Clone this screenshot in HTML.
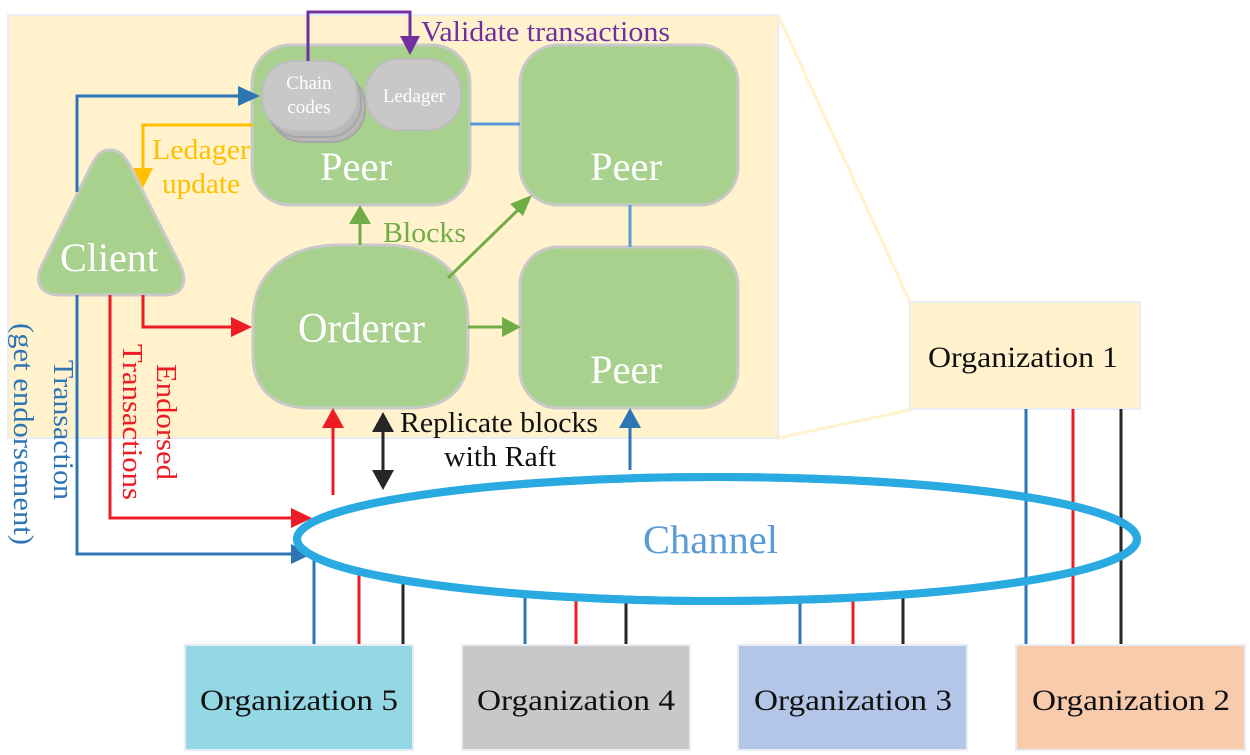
<!DOCTYPE html>
<html><head><meta charset="utf-8"><style>
html,body{margin:0;padding:0;background:#fff;}
svg{display:block;font-family:"Liberation Serif",serif;}
</style></head><body>
<svg width="1250" height="755" viewBox="0 0 1250 755" xmlns="http://www.w3.org/2000/svg">
<!-- zoom lines -->
<polygon points="778,15 910,302 910,410 778,438" fill="none" stroke="#fff2cc" stroke-width="3"/>
<!-- panel -->
<rect x="8" y="15" width="770" height="423" fill="#fff2cc" stroke="#e8edf5" stroke-width="2"/>
<!-- org1 -->
<rect x="910" y="302" width="230" height="107" fill="#fff2cc" stroke="#e8edf5" stroke-width="2"/>
<text x="928" y="367" font-size="30" textLength="190" lengthAdjust="spacingAndGlyphs" fill="#111">Organization 1</text>
<!-- peers -->
<g fill="#a9d18e" stroke="#c9c9c9" stroke-width="3">
<rect x="252" y="45" width="218" height="160" rx="38"/>
<rect x="520" y="45" width="218" height="160" rx="38"/>
<rect x="520" y="247" width="218" height="161" rx="38"/>
<path d="M253,320 C253,270 290,245 340,245 L385,245 C435,245 468,275 468,320 L468,355 C468,390 445,408 410,408 L310,408 C275,408 253,390 253,355 Z"/>
<path d="M110,150 C100,150 96,156 90,168 L42,265 C34,282 40,295 60,295 L165,295 C183,295 188,282 180,265 L131,168 C125,156 120,150 110,150 Z"/>
</g>
<!-- chain codes -->
<g fill="#b8b8b8" stroke="#a6a6a6" stroke-width="2">
<rect x="270" y="72" width="95" height="70" rx="33"/>
<rect x="266" y="67" width="95" height="70" rx="33"/>
</g>
<rect x="262" y="61" width="95" height="70" rx="33" fill="#c8c8c8" stroke="#bdbdbd" stroke-width="2"/>
<rect x="366" y="59" width="95" height="71" rx="33" fill="#c8c8c8" stroke="#bdbdbd" stroke-width="2"/>
<text x="309" y="89" font-size="19" fill="#fff" text-anchor="middle">Chain</text>
<text x="309" y="113" font-size="19" fill="#fff" text-anchor="middle">codes</text>
<text x="414" y="102" font-size="19" fill="#fff" text-anchor="middle">Ledager</text>
<g fill="#fff">
<text x="320" y="180" font-size="40" textLength="72" lengthAdjust="spacingAndGlyphs">Peer</text>
<text x="590" y="180" font-size="40" textLength="72" lengthAdjust="spacingAndGlyphs">Peer</text>
<text x="590" y="383" font-size="40" textLength="72" lengthAdjust="spacingAndGlyphs">Peer</text>
<text x="298" y="342" font-size="42" textLength="127" lengthAdjust="spacingAndGlyphs">Orderer</text>
<text x="60" y="271" font-size="40" textLength="98" lengthAdjust="spacingAndGlyphs">Client</text>
</g>
<!-- blue links -->
<line x1="470" y1="124" x2="520" y2="124" stroke="#5b9bd5" stroke-width="3"/>
<line x1="630" y1="205" x2="630" y2="247" stroke="#5b9bd5" stroke-width="3"/>
<!-- purple -->
<polyline points="308,61 308,12 410,12 410,38" fill="none" stroke="#7030a0" stroke-width="3"/>
<polygon points="400,36 420,36 410,55" fill="#7030a0"/>
<text x="421" y="41" font-size="29" textLength="249" lengthAdjust="spacingAndGlyphs" fill="#7030a0">Validate transactions</text>
<!-- blue client to chaincode -->
<polyline points="77,192 77,96 242,96" fill="none" stroke="#2e75b6" stroke-width="3"/>
<polygon points="238,86 260,96 238,106" fill="#2e75b6"/>
<!-- orange -->
<polyline points="253,125 143,125 143,172" fill="none" stroke="#ffc000" stroke-width="3"/>
<polygon points="133,168 153,168 143,188" fill="#ffc000"/>
<text x="152" y="159" font-size="29" textLength="98" lengthAdjust="spacingAndGlyphs" fill="#ffc000">Ledager</text>
<text x="162" y="193" font-size="29" textLength="78" lengthAdjust="spacingAndGlyphs" fill="#ffc000">update</text>
<!-- green -->
<line x1="360" y1="245" x2="360" y2="222" stroke="#70ad47" stroke-width="3"/>
<polygon points="349,224 371,224 360,205" fill="#70ad47"/>
<text x="383" y="242" font-size="29" textLength="83" lengthAdjust="spacingAndGlyphs" fill="#70ad47">Blocks</text>
<line x1="448" y1="278" x2="520" y2="208" stroke="#70ad47" stroke-width="3"/>
<polygon points="532,195 510,204 523,216" fill="#70ad47"/>
<line x1="468" y1="327" x2="505" y2="327" stroke="#70ad47" stroke-width="3"/>
<polygon points="502,317 521,327 502,337" fill="#70ad47"/>
<!-- client bottom lines -->
<polyline points="77,295 77,554 295,554" fill="none" stroke="#2e75b6" stroke-width="3"/>
<polygon points="291,544 312,554 291,564" fill="#2e75b6"/>
<polyline points="110,295 110,518 295,518" fill="none" stroke="#ed1c24" stroke-width="3"/>
<polygon points="291,508 312,518 291,528" fill="#ed1c24"/>
<polyline points="143,295 143,327 235,327" fill="none" stroke="#ed1c24" stroke-width="3"/>
<polygon points="231,317 252,327 231,337" fill="#ed1c24"/>
<!-- vertical labels -->
<g font-size="29">
<text transform="translate(54,360) rotate(90)" fill="#2e75b6" textLength="140" lengthAdjust="spacingAndGlyphs">Transaction</text>
<text transform="translate(14,323) rotate(90)" fill="#2e75b6" textLength="222" lengthAdjust="spacingAndGlyphs">(get endorsement)</text>
<text transform="translate(157,364) rotate(90)" fill="#ed1c24" textLength="116" lengthAdjust="spacingAndGlyphs">Endorsed</text>
<text transform="translate(123,344) rotate(90)" fill="#ed1c24" textLength="156" lengthAdjust="spacingAndGlyphs">Transactions</text>
</g>
<!-- org lines -->
<g stroke-width="3">
<line x1="314" y1="560" x2="314" y2="645" stroke="#2e75b6"/>
<line x1="359" y1="570" x2="359" y2="645" stroke="#ed1c24"/>
<line x1="403" y1="580" x2="403" y2="645" stroke="#262626"/>
<line x1="525" y1="595" x2="525" y2="645" stroke="#2e75b6"/>
<line x1="576" y1="598" x2="576" y2="645" stroke="#ed1c24"/>
<line x1="626" y1="598" x2="626" y2="645" stroke="#262626"/>
<line x1="800" y1="598" x2="800" y2="645" stroke="#2e75b6"/>
<line x1="853" y1="595" x2="853" y2="645" stroke="#ed1c24"/>
<line x1="903" y1="590" x2="903" y2="645" stroke="#262626"/>
<line x1="1026" y1="409" x2="1026" y2="645" stroke="#2e75b6"/>
<line x1="1073" y1="409" x2="1073" y2="645" stroke="#ed1c24"/>
<line x1="1121" y1="409" x2="1121" y2="645" stroke="#262626"/>
<line x1="333" y1="495" x2="333" y2="425" stroke="#ed1c24"/>
<line x1="630" y1="470" x2="630" y2="425" stroke="#2e75b6"/>
<line x1="383" y1="425" x2="383" y2="478" stroke="#262626"/>
</g>
<polygon points="322,428 344,428 333,408" fill="#ed1c24"/>
<polygon points="619,428 641,428 630,408" fill="#2e75b6"/>
<polygon points="372,432 394,432 383,412" fill="#262626"/>
<polygon points="372,470 394,470 383,490" fill="#262626"/>
<text x="400" y="432" font-size="29" textLength="198" lengthAdjust="spacingAndGlyphs" fill="#111">Replicate blocks</text>
<text x="444" y="466" font-size="29" textLength="112" lengthAdjust="spacingAndGlyphs" fill="#111">with Raft</text>
<!-- channel -->
<ellipse cx="717" cy="539" rx="420" ry="62" fill="#fff" stroke="#29abe2" stroke-width="8"/>
<line x1="1026" y1="478" x2="1026" y2="600" stroke="#2e75b6" stroke-width="3"/>
<line x1="1073" y1="484" x2="1073" y2="594" stroke="#ed1c24" stroke-width="3"/>
<line x1="1121" y1="495" x2="1121" y2="583" stroke="#262626" stroke-width="3"/>
<ellipse cx="717" cy="539" rx="420" ry="62" fill="none" stroke="#29abe2" stroke-width="8"/>
<text x="643" y="553" font-size="40" textLength="135" lengthAdjust="spacingAndGlyphs" fill="#5b9bd5">Channel</text>
<!-- orgs -->
<rect x="185" y="645" width="228" height="105" fill="#93d8e4" stroke="#e8edf5" stroke-width="2"/>
<rect x="462" y="645" width="228" height="105" fill="#c8c8c8" stroke="#e8edf5" stroke-width="2"/>
<rect x="738" y="645" width="229" height="105" fill="#b4c6e7" stroke="#e8edf5" stroke-width="2"/>
<rect x="1016" y="645" width="229" height="105" fill="#f8cbad" stroke="#e8edf5" stroke-width="2"/>
<g font-size="30" fill="#111" lengthAdjust="spacingAndGlyphs">
<text x="200" y="710" textLength="198" lengthAdjust="spacingAndGlyphs">Organization  5</text>
<text x="477" y="710" textLength="198" lengthAdjust="spacingAndGlyphs">Organization  4</text>
<text x="754" y="710" textLength="198" lengthAdjust="spacingAndGlyphs">Organization  3</text>
<text x="1032" y="710" textLength="198" lengthAdjust="spacingAndGlyphs">Organization  2</text>
</g>
</svg>
</body></html>
